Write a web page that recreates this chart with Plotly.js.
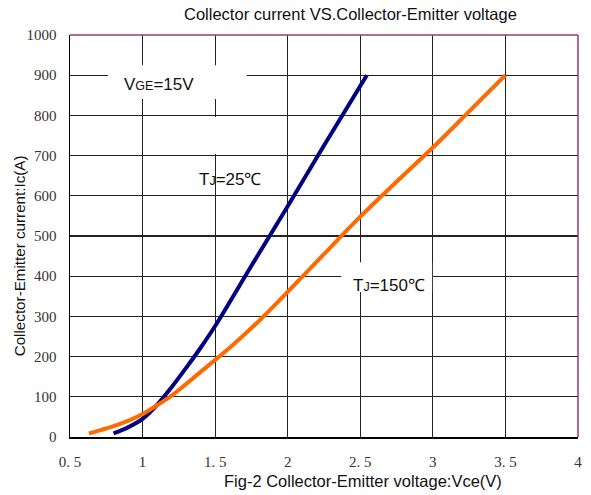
<!DOCTYPE html>
<html>
<head>
<meta charset="utf-8">
<script src="https://cdn.plot.ly/plotly-3.0.1.min.js"></script>
<style>html,body{margin:0;padding:0;background:#fff;}#chart{width:591px;height:495px;}</style>
</head>
<body>
<div id="chart"></div>
<script>
// Data
const vce25 = [0.8, 0.9, 1.0, 1.1, 1.2, 1.3, 1.4, 1.5, 1.75, 2.0, 2.25, 2.545];
const ic25  = [9, 24, 45, 80, 124, 172, 222, 276, 426, 574, 725, 900];
const vce150 = [0.63, 0.7, 0.8, 0.9, 1.0, 1.1, 1.2, 1.4, 1.6, 1.8, 2.0, 2.25, 2.5, 2.75, 3.0, 3.25, 3.5];
const ic150  = [9, 16, 27, 40, 57, 79, 103, 162, 222, 288, 361, 455, 548, 635, 720, 810, 900];
const xTickVals = [0.5, 1, 1.5, 2, 2.5, 3, 3.5, 4];
const xTickText = ["0. 5", "1", "1. 5", "2", "2. 5", "3", "3. 5", "4"];
const yTickVals = [0, 100, 200, 300, 400, 500, 600, 700, 800, 900, 1000];
const yTickText = ["0", "100", "200", "300", "400", "500", "600", "700", "800", "900", "1000"];

const sans = "Liberation Sans, Arial, sans-serif";
const serif = "Liberation Serif, Times New Roman, serif";

const traces = [
  {x: vce25, y: ic25, mode: "lines", line: {color: "#000080", width: 4, shape: "spline", smoothing: 0.9}, hoverinfo: "skip", name: "TJ=25°C"},
  {x: vce150, y: ic150, mode: "lines", line: {color: "#FF6A00", width: 4, shape: "spline", smoothing: 0.9}, hoverinfo: "skip", name: "TJ=150°C"}
];

const layout = {
  width: 591, height: 495,
  margin: {l: 70, r: 13, t: 35, b: 58},
  paper_bgcolor: "#fff", plot_bgcolor: "#fff",
  showlegend: false,
  title: {text: "Collector current VS.Collector-Emitter voltage", font: {family: sans, size: 16.5, color: "#111"}, x: 0.593, xanchor: "center", y: 0.971, yanchor: "middle"},
  xaxis: {
    range: [0.5, 4], tickvals: xTickVals, ticktext: xTickText,
    showgrid: true, gridcolor: "#222", gridwidth: 1.1,
    showline: true, linecolor: "#000", linewidth: 1.5, zeroline: false,
    ticks: "", ticklabelstandoff: 10, tickfont: {family: serif, size: 15, color: "#333"},
    title: {text: ""}
  },
  yaxis: {
    range: [0, 1000], tickvals: yTickVals, ticktext: yTickText,
    showgrid: true, gridcolor: "#222", gridwidth: 1.1,
    showline: true, linecolor: "#000", linewidth: 1.5, zeroline: false,
    ticks: "", ticklabelstandoff: 9, tickfont: {family: serif, size: 15, color: "#333"},
    title: {text: ""}
  },
  shapes: [
    {type: "rect", xref: "x", yref: "y", x0: 0.761, x1: 1.717, y0: 841, y1: 925, fillcolor: "#fff", line: {width: 0}, layer: "between"},
    {type: "rect", xref: "x", yref: "y", x0: 1.45, x1: 1.9, y0: 704, y1: 796, fillcolor: "#fff", line: {width: 0}, layer: "between"},
    {type: "rect", xref: "x", yref: "y", x0: 2.37, x1: 2.995, y0: 361, y1: 435, fillcolor: "#fff", line: {width: 0}, layer: "between"},
    {type: "line", xref: "paper", yref: "paper", x0: 0, x1: 1, y0: 1, y1: 1, line: {color: "#9B3A6B", width: 1.5}, layer: "above"},
    {type: "line", xref: "paper", yref: "paper", x0: 1, x1: 1, y0: 0, y1: 1, line: {color: "#9B3A6B", width: 1.5}, layer: "above"}
  ],
  annotations: [
    {xref: "paper", yref: "paper", x: -0.1, y: 0.45, text: "Collector-Emitter current:Ic(A)", textangle: -90, showarrow: false, font: {family: sans, size: 15.2, color: "#111"}, xanchor: "center", yanchor: "middle"},
    {xref: "paper", yref: "paper", x: 0.577, y: -0.109, text: "Fig-2 Collector-Emitter voltage:Vce(V)", showarrow: false, font: {family: sans, size: 16.5, color: "#111"}, xanchor: "center", yanchor: "middle"},
    {xref: "x", yref: "y", x: 1.116, y: 878, text: "V<span style=\"font-size:12.5px\">GE</span>=15V", showarrow: false, font: {family: sans, size: 17, color: "#111"}, xanchor: "center", yanchor: "middle"},
    {xref: "x", yref: "y", x: 1.604, y: 641, text: "T<span style=\"font-size:12.5px\">J</span>=25℃", showarrow: false, font: {family: sans, size: 17, color: "#111"}, xanchor: "center", yanchor: "middle"},
    {xref: "x", yref: "y", x: 2.70, y: 378, text: "T<span style=\"font-size:12.5px\">J</span>=150℃", showarrow: false, font: {family: sans, size: 17, color: "#111"}, xanchor: "center", yanchor: "middle"}
  ]
};

Plotly.newPlot("chart", traces, layout, {staticPlot: true, displayModeBar: false});
</script>
</body>
</html>
